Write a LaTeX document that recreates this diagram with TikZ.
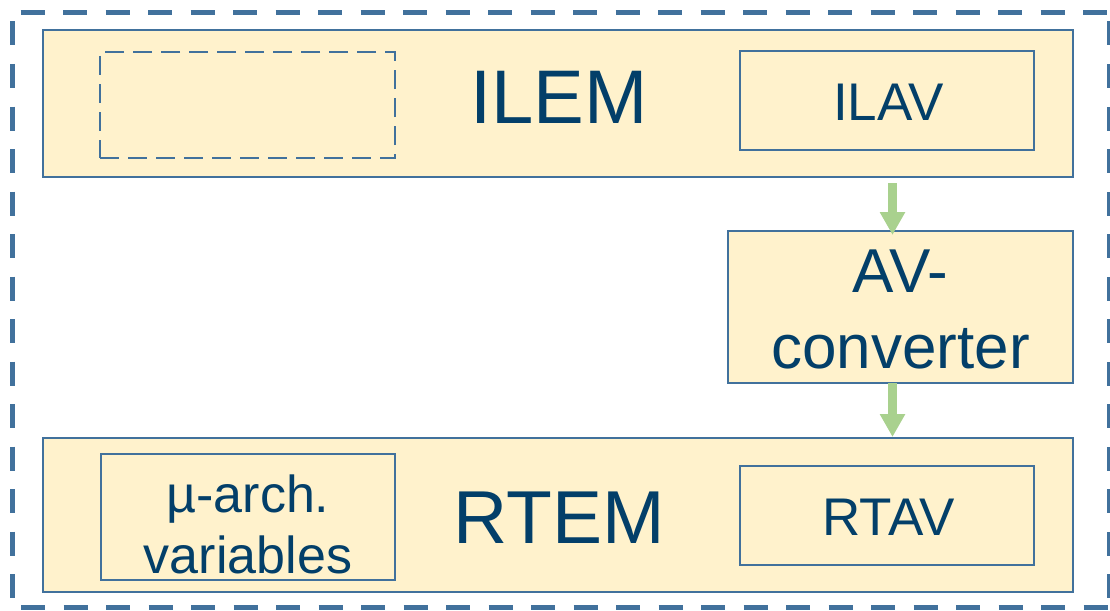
\documentclass[tikz,border=0pt]{standalone}
\usepackage{fontspec}
\setmainfont{Liberation Sans}
\usetikzlibrary{arrows.meta,calc}

\definecolor{edgeblue}{HTML}{41719C}
\definecolor{boxfill}{HTML}{FFF2CC}
\definecolor{inkblue}{HTML}{033F69}
\definecolor{flowgreen}{HTML}{A9D18E}

\tikzset{
  layer/.style={draw=edgeblue, line width=2pt, fill=boxfill, inner sep=0pt},
  subbox/.style={draw=edgeblue, line width=2pt, inner sep=0pt},
  slot/.style={draw=edgeblue, line width=1.4pt, dash pattern=on 19pt off 9pt, inner sep=0pt},
  frame/.style={draw=edgeblue, line width=5pt, dash pattern=on 24pt off 18.5pt, dash phase=34pt},
  lbl/.style={text=inkblue, inner sep=0pt, outer sep=0pt},
  flow/.style={draw=flowgreen, line width=9pt, -{Triangle[width=24pt,length=23pt]}},
}

\begin{document}
\begin{tikzpicture}[x=1pt,y=-1pt]
  \useasboundingbox (0,0) rectangle (1110,610);

  % outer dashed frame
  \draw[frame] (12,13) -- (1109,13);
  \draw[frame] (12,13) -- (12,607.5) -- (1109,607.5);
  \draw[frame] (1109,13) -- (1109,607.5);

  % instruction-level emulation layer
  \node[layer, minimum width=1030pt, minimum height=147pt] (ilem) at (558,103.5) {};
  \node[slot, minimum width=295pt, minimum height=106pt] (slot) at (247.5,105) {};
  \node[subbox, minimum width=294pt, minimum height=99pt] (ilav) at (887,100.5) {};
  \node[lbl, anchor=base, font=\fontsize{76}{80}\selectfont] (ilemtxt) at (559,123) {ILEM};
  \node[lbl, anchor=base, font=\fontsize{53}{60}\selectfont] (ilavtxt) at (888.5,120) {ILAV};

  % converter
  \node[layer, minimum width=345pt, minimum height=152pt] (avc) at (900.5,307) {};
  \node[lbl, align=center, font=\fontsize{62}{76}\selectfont] (avctxt) at (900.5,309) {AV-\\converter};

  % register-transfer emulation layer
  \node[layer, minimum width=1030pt, minimum height=154pt] (rtem) at (558,515) {};
  \node[subbox, minimum width=294pt, minimum height=126pt] (march) at (248,517) {};
  \node[subbox, minimum width=294pt, minimum height=99pt] (rtav) at (887,515.5) {};
  \node[lbl, anchor=base, font=\fontsize{75}{80}\selectfont] (rtemtxt) at (559,543) {RTEM};
  \node[lbl, anchor=base, font=\fontsize{53}{60}\selectfont] (rtavtxt) at (888.5,535) {RTAV};
  \node[lbl, align=center, font=\fontsize{52}{61}\selectfont] (marchtxt) at (248,524) {µ-arch.\\variables};

  % data flow arrows
  \draw[flow] ($(avc.north |- ilem.south)+(-8,5)$) -- ($(avc.north)+(-8,5)$);
  \draw[flow] ($(avc.south)+(-8,-1)$) -- ($(rtem.north -| avc.south)+(-8,0)$);
\end{tikzpicture}
\end{document}
